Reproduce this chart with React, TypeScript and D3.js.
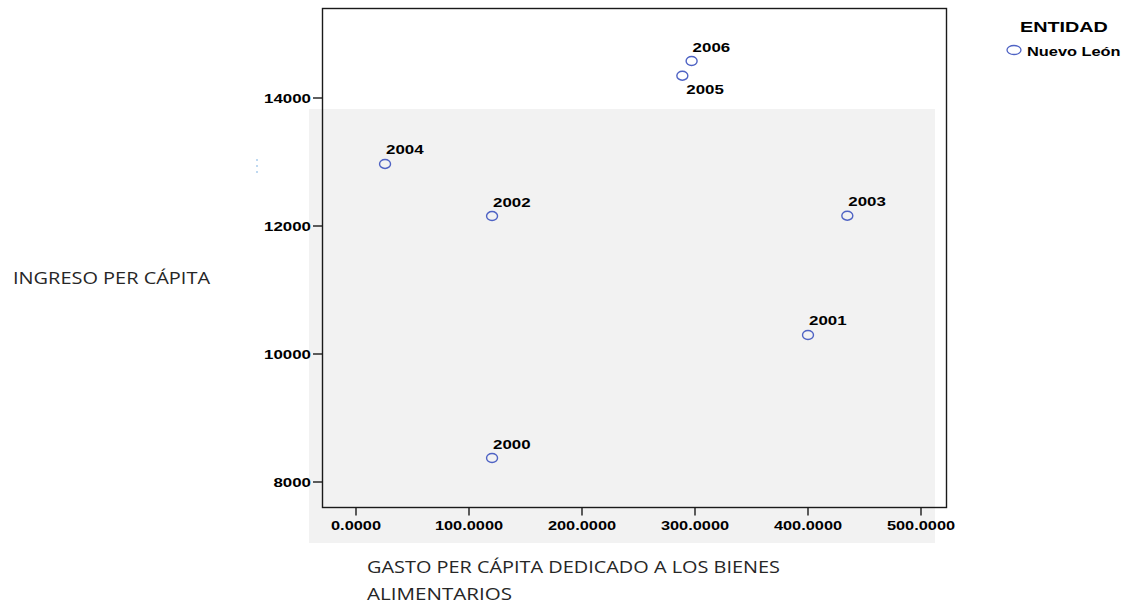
import React from "react";
import * as d3 from "d3";

// años y valores
const years = ["2000", "2001", "2002", "2003", "2004", "2005", "2006"];
const gasto = [120.4, 400, 120.4, 434.8, 25.7, 288.8, 297];
const ingreso = [8375, 10297, 12156, 12161, 12969, 14348, 14578];
const labelBelow = ["2005"];

const xTicks = [0, 100, 200, 300, 400, 500];
const yTicks = [8000, 10000, 12000, 14000];

const W = 1131;
const H = 605;
const frame = { left: 322.5, top: 8.5, right: 946.5, bottom: 507.5 };

const tickFont = "'Liberation Sans', Arial, sans-serif";
const titleFont = "'Open Sans', 'Noto Sans', sans-serif";
const markerColor = "#4f63c4";

export default function App() {
  const x = d3.scaleLinear().domain([0, 500]).range([356, 921]);
  const y = d3.scaleLinear().domain([8000, 14000]).range([482, 98]);

  const points = years.map((yr, i) => ({ yr, gx: gasto[i], iy: ingreso[i] }));

  return (
    <svg
      width={W}
      height={H}
      style={{ position: "absolute", left: 0, top: 0, background: "#fff" }}
    >
      {/* fondo gris */}
      <rect x={309} y={109} width={626} height={434} fill="#f2f2f2" />

      {/* marco */}
      <rect
        x={frame.left}
        y={frame.top}
        width={frame.right - frame.left}
        height={frame.bottom - frame.top}
        fill="none"
        stroke="#1a1a1a"
        strokeWidth={1.4}
      />

      {/* eje Y */}
      {yTicks.map((t) => (
        <g key={t}>
          <line
            x1={313}
            x2={frame.left}
            y1={y(t)}
            y2={y(t)}
            stroke="#1a1a1a"
            strokeWidth={1.4}
          />
          <text
            transform={`translate(311,${y(t) + 4.5}) scale(1.3,1)`}
            textAnchor="end"
            fontFamily={tickFont}
            fontWeight="bold"
            fontSize={13}
            fill="#000"
          >
            {t}
          </text>
        </g>
      ))}

      {/* eje X */}
      {xTicks.map((t) => (
        <g key={t}>
          <line
            x1={x(t)}
            x2={x(t)}
            y1={frame.bottom}
            y2={frame.bottom + 8}
            stroke="#1a1a1a"
            strokeWidth={1.4}
          />
          <text
            transform={`translate(${x(t)},${530}) scale(1.26,1)`}
            textAnchor="middle"
            fontFamily={tickFont}
            fontWeight="bold"
            fontSize={13}
            fill="#000"
          >
            {d3.format(".4f")(t)}
          </text>
        </g>
      ))}

      {/* puntos */}
      {points.map((p) => {
        const cx = x(p.gx);
        const cy = y(p.iy);
        const below = labelBelow.includes(p.yr);
        return (
          <g key={p.yr}>
            <ellipse
              cx={cx}
              cy={cy}
              rx={5.5}
              ry={4.5}
              fill="none"
              stroke={markerColor}
              strokeWidth={1.4}
            />
            <text
              transform={`translate(${cx + (below ? 4 : 1)},${cy + (below ? 18 : -9.5)}) scale(1.3,1)`}
              fontFamily={tickFont}
              fontWeight="bold"
              fontSize={13}
              fill="#000"
            >
              {p.yr}
            </text>
          </g>
        );
      })}

      {/* leyenda */}
      <text
        transform="translate(1020,31.5) scale(1.32,1)"
        fontFamily={tickFont}
        fontWeight="bold"
        fontSize={15}
        fill="#000"
      >
        ENTIDAD
      </text>
      <ellipse
        cx={1014}
        cy={50}
        rx={7}
        ry={4.5}
        fill="none"
        stroke={markerColor}
        strokeWidth={1.3}
      />
      <text
        transform="translate(1027,55.5) scale(1.26,1)"
        fontFamily={tickFont}
        fontWeight="bold"
        fontSize={13}
        fill="#000"
      >
        Nuevo León
      </text>

      {/* marcas sueltas */}
      {[160, 166, 172].map((d) => (
        <circle key={d} cx={257} cy={d} r={0.8} fill="#6fa8e0" />
      ))}

      {/* títulos */}
      <text
        x={13}
        y={284}
        fontFamily={titleFont}
        fontSize={16.5}
        fill="#262626"
        textLength={197}
        lengthAdjust="spacingAndGlyphs"
      >
        INGRESO PER CÁPITA
      </text>
      <text
        x={367}
        y={573}
        fontFamily={titleFont}
        fontSize={16.5}
        fill="#262626"
        textLength={413}
        lengthAdjust="spacingAndGlyphs"
      >
        GASTO PER CÁPITA DEDICADO A LOS BIENES
      </text>
      <text
        x={367}
        y={600}
        fontFamily={titleFont}
        fontSize={16.5}
        fill="#262626"
        textLength={145}
        lengthAdjust="spacingAndGlyphs"
      >
        ALIMENTARIOS
      </text>
    </svg>
  );
}
